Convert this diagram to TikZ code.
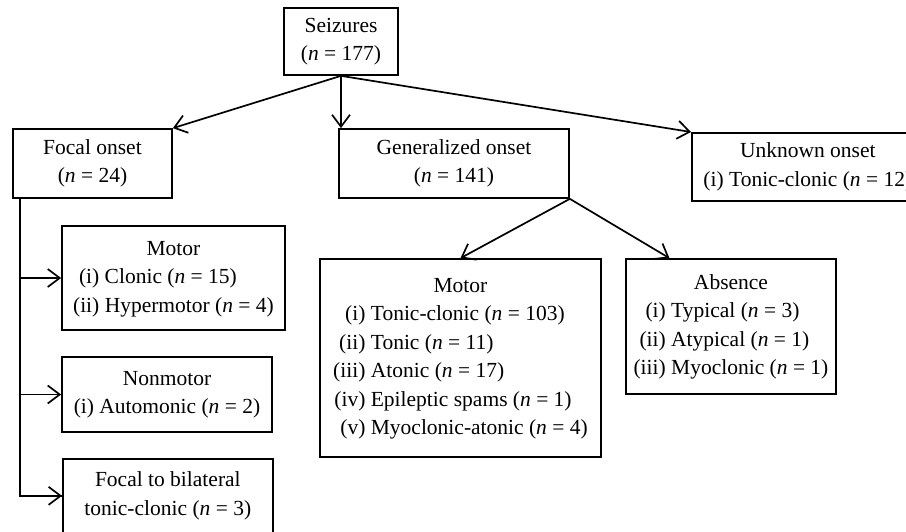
\documentclass[tikz,border=0pt]{standalone}
\usepackage{fontspec}
\setmainfont{Liberation Serif}
\usetikzlibrary{arrows.meta, positioning}
\tikzset{
  box/.style={rectangle, draw=black, line width=1.7pt, inner sep=0pt, align=center,
    font=\fontsize{21.5}{28.5}\selectfont},
  arrow/.style={-{Straight Barb[length=12pt,width=18pt]}, line width=1.7pt}
}
\newcommand{\nn}[1]{(\textit{n} = #1)}

\begin{document}
\begin{tikzpicture}[x=1pt, y=-1pt]
\useasboundingbox (0,0) rectangle (906,531);

% top
\node[box, minimum width=114, minimum height=67] (seiz) at (341,41.5) {Seizures\\\nn{177}};

% onsets
\node[box, minimum width=159, minimum height=69] (focal) at (92.5,163.5) {Focal onset\\\nn{24}};
\node[box, minimum width=230, minimum height=69] (general) at (454,163.5) {Generalized onset\\\nn{141}};
\node[box, minimum width=232, minimum height=68, anchor=north west] (unknown) at (691,132)
  {Unknown onset\\(i) Tonic-clonic \nn{12}};

% focal types
\node[box, minimum width=223, minimum height=104] (fmotor) at (173.5,278) {%
  \begin{tabular}{@{}r@{ }l@{}}
  \multicolumn{2}{c}{Motor}\\
  (i) & Clonic \nn{15}\\
  (ii) & Hypermotor \nn{4}
  \end{tabular}};
\node[box, minimum width=210, minimum height=75] (fnonmotor) at (167,394.5) {Nonmotor\\(i) Automonic \nn{2}};
\node[box, minimum width=210, minimum height=74, anchor=north west] (fbilat) at (62,458)
  {Focal to bilateral\\tonic-clonic \nn{3}};

% generalized types
\node[box, minimum width=281, minimum height=198] (gmotor) at (460.5,358) {%
  \begin{tabular}{@{}r@{ }l@{}}
  \multicolumn{2}{c}{Motor}\\
  (i) & Tonic-clonic \nn{103}\\
  (ii) & Tonic \nn{11}\\
  (iii) & Atonic \nn{17}\\
  (iv) & Epileptic spams \nn{1}\\
  (v) & Myoclonic-atonic \nn{4}
  \end{tabular}};
\node[box, minimum width=210, minimum height=135] (gabsence) at (731,326.5) {%
  \begin{tabular}{@{}r@{ }l@{}}
  \multicolumn{2}{c}{Absence}\\
  (i) & Typical \nn{3}\\
  (ii) & Atypical \nn{1}\\
  (iii) & Myoclonic \nn{1}
  \end{tabular}};

% arrows from seizures
\draw[arrow] (seiz.south) -- (focal.north east);
\draw[arrow] (seiz.south) -- (seiz.south |- general.north);
\draw[arrow] (seiz.south) -- (unknown.north west);

% arrows from generalized onset
\draw[arrow] (general.south east) -- (gmotor.north);
\draw[arrow] (general.south east) -- (gabsence.132);

% focal trunk
\coordinate (trunk) at ([xshift=8]focal.south west);
\draw[line width=1.7pt] (trunk) |- (fbilat.west);
\foreach \n in {fmotor, fnonmotor, fbilat} {
  \draw[arrow] (trunk |- \n.west) -- (\n.west);
}

\end{tikzpicture}
\end{document}
